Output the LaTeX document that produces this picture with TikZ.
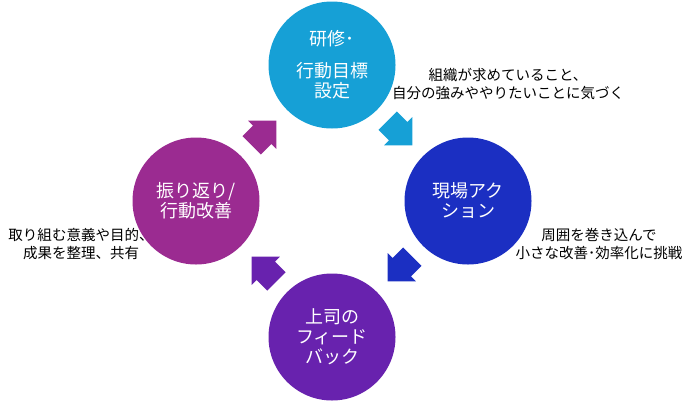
\documentclass[tikz,border=0pt]{standalone}
\usepackage{fontspec}
\usepackage{xcolor}
\usepackage{tikz}
\usetikzlibrary{calc}
\newfontfamily\jpfont{Noto Sans CJK JP}
\definecolor{trainingBlue}{RGB}{22,160,214}
\definecolor{actionBlue}{RGB}{27,47,194}
\definecolor{feedbackViolet}{RGB}{104,34,174}
\definecolor{reviewPurple}{RGB}{155,43,145}

\begin{document}
\begin{tikzpicture}[
  x=1pt,
  y=-1pt,
  cycle circle/.style={
    circle,
    minimum size=127pt,
    inner sep=0pt,
    text=white,
    align=center,
    font=\jpfont\fontsize{18}{20}\selectfont,
  },
  note/.style={
    text=black,
    align=center,
    inner sep=0pt,
    font=\jpfont\fontsize{14.5}{18}\selectfont,
  },
  cycle arrow/.pic={
    \fill (-17.5,-13) -- (-2.5,-13) -- (-2.5,-20) -- (17.5,0)
      -- (-2.5,20) -- (-2.5,13) -- (-17.5,13) -- cycle;
  }
]
\useasboundingbox (0,0) rectangle (700,402);
% the four steps
\node[cycle circle,fill=trainingBlue] (training) at (332,65) {研修･\\[12pt]行動目標\\設定};
\node[cycle circle,fill=actionBlue] (action) at (468,201) {現場アク\\ション};
\node[cycle circle,fill=feedbackViolet] (feedback) at (332,337) {上司の\\フィード\\バック};
\node[cycle circle,fill=reviewPurple] (review) at (196,201) {振り返り/\\行動改善};
% block arrows between the steps
\foreach \from/\to/\col in {training/action/trainingBlue,action/feedback/actionBlue,
  feedback/review/feedbackViolet,review/training/reviewPurple}
{
  \path let \p1=($(\to)-(\from)$), \n1={atan2(\y1,\x1)} in
    pic[fill=\col,rotate=\n1] at ($(\from)!0.5!(\to)$) {cycle arrow};
}
% notes
\node[note] (trainingNote) at (508,84) {組織が求めていること、\\自分の強みややりたいことに気づく};
\node[note] (actionNote) at (599,244) {周囲を巻き込んで\\小さな改善･効率化に挑戦};
\node[note] (reviewNote) at (81,244) {取り組む意義や目的、\\成果を整理、共有};
\end{tikzpicture}
\end{document}
